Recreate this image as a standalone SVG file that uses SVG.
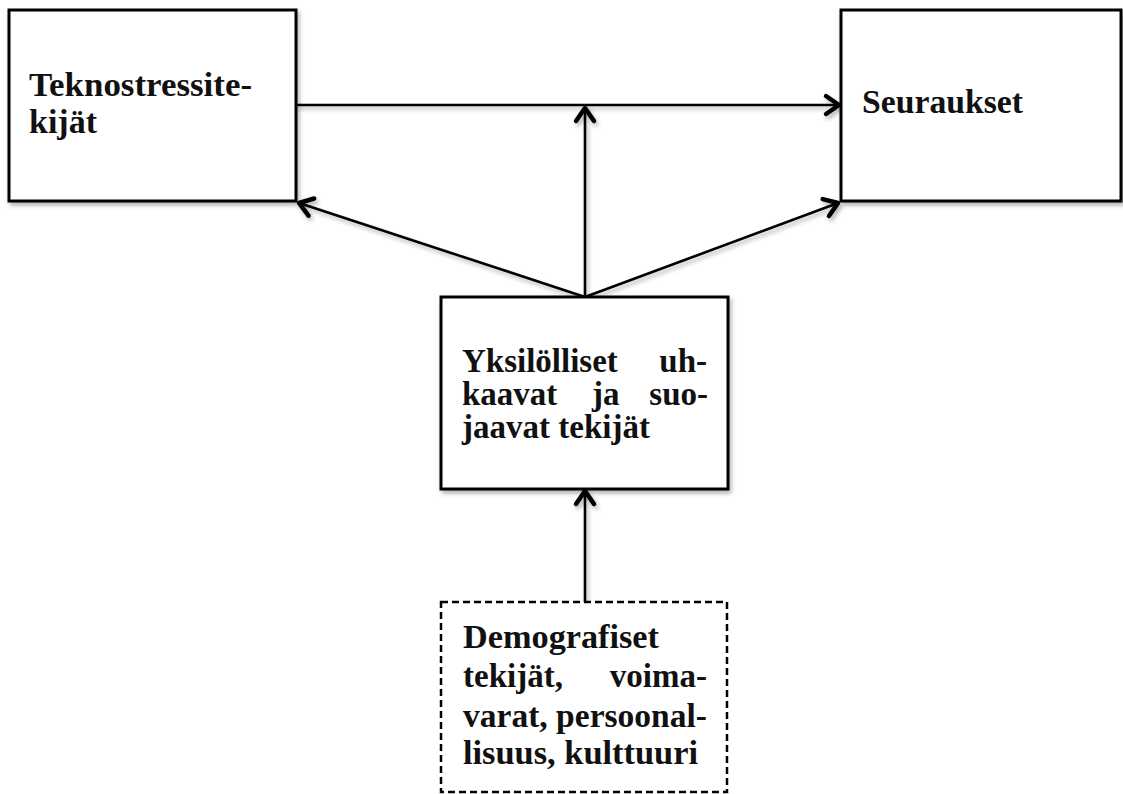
<svg xmlns="http://www.w3.org/2000/svg" width="1123" height="794" viewBox="0 0 1123 794">
<style>
.box{fill:#fff;stroke:#000;stroke-width:3}
.dash{fill:#fff;stroke:#000;stroke-width:2.5;stroke-dasharray:7 4}
.t{font-family:"Liberation Serif","Times New Roman",serif;font-weight:bold;font-size:33px;fill:#111}
.e{text-anchor:end}
.c{fill:none;stroke:#000;stroke-width:2.6}
</style>
<defs>
<filter id="sh" x="-10%" y="-10%" width="130%" height="130%">
<feDropShadow dx="2" dy="3" stdDeviation="2" flood-color="#000" flood-opacity="0.3"/>
</filter>
<marker id="ah" markerUnits="userSpaceOnUse" markerWidth="30" markerHeight="30" viewBox="-20 -15 30 30" refX="0" refY="0" orient="auto">
<path d="M-13,-9 L0,0 L-13,9" fill="none" stroke="#000" stroke-width="4.5" stroke-linecap="round" stroke-linejoin="round"/>
</marker>
</defs>
<g id="connectors" filter="url(#sh)">
<line class="c" x1="296" y1="105" x2="839" y2="105" marker-end="url(#ah)"/>
<line class="c" x1="585" y1="297" x2="585" y2="108" marker-end="url(#ah)"/>
<line class="c" x1="585" y1="297" x2="299" y2="203" marker-end="url(#ah)"/>
<line class="c" x1="585" y1="297" x2="838" y2="203" marker-end="url(#ah)"/>
<line class="c" x1="585" y1="602" x2="585" y2="491" marker-end="url(#ah)"/>
</g>
<g id="teknostressitekijat">
<rect class="box" x="9" y="10" width="287" height="191" filter="url(#sh)"/>
<text class="t" x="29" y="96" textLength="223" lengthAdjust="spacingAndGlyphs">Teknostressite-</text>
<text class="t" x="29" y="133" textLength="68" lengthAdjust="spacingAndGlyphs">kijät</text>
</g>
<g id="seuraukset">
<rect class="box" x="841" y="10" width="280" height="191" filter="url(#sh)"/>
<text class="t" x="862" y="113" textLength="161" lengthAdjust="spacingAndGlyphs">Seuraukset</text>
</g>
<g id="yksilolliset">
<rect class="box" x="441" y="297" width="287" height="192" filter="url(#sh)"/>
<text class="t" x="462" y="372">Yksilölliset</text>
<text class="t e" x="707" y="372">uh-</text>
<text class="t" x="462" y="405">kaavat</text>
<text class="t" x="592" y="405">ja</text>
<text class="t e" x="708" y="405">suo-</text>
<text class="t" x="462" y="438" textLength="188" lengthAdjust="spacingAndGlyphs">jaavat tekijät</text>
</g>
<g id="demografiset">
<rect class="dash" x="441" y="602" width="286" height="190"/>
<text class="t" x="463" y="648" textLength="196" lengthAdjust="spacingAndGlyphs">Demografiset</text>
<text class="t" x="463" y="687">tekijät,</text>
<text class="t e" x="707" y="687">voima-</text>
<text class="t" x="463" y="727" textLength="244" lengthAdjust="spacingAndGlyphs">varat, persoonal-</text>
<text class="t" x="463" y="764" textLength="235" lengthAdjust="spacingAndGlyphs">lisuus, kulttuuri</text>
</g>
</svg>
